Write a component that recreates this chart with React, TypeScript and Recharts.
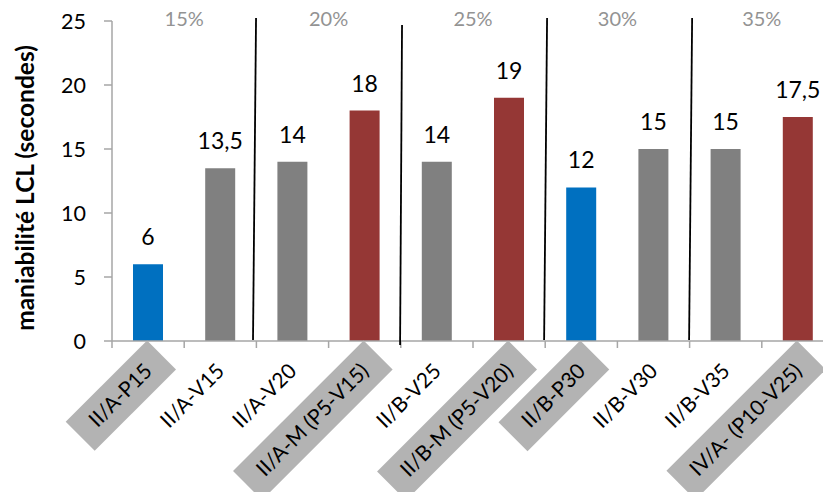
import React, { useLayoutEffect, useRef, useState } from 'react';
import { BarChart, Bar, XAxis, YAxis, Cell, LabelList } from 'recharts';

const categories = [
  'II/A-P15',
  'II/A-V15',
  'II/A-V20',
  'II/A-M (P5-V15)',
  'II/B-V25',
  'II/B-M (P5-V20)',
  'II/B-P30',
  'II/B-V30',
  'II/B-V35',
  'IV/A- (P10-V25)',
];
const values = [6, 13.5, 14, 18, 14, 19, 12, 15, 15, 17.5];
const kinds = ['P', 'V', 'V', 'M', 'V', 'M', 'P', 'V', 'V', 'M'];
const yTicks = [0, 5, 10, 15, 20, 25];
const groupLabels = ['15%', '20%', '25%', '30%', '35%'];
const groupCenters = [1, 3, 5, 7, 9];
// group separators in category units / y values: [xTop, yTop, xBottom, yBottom]
const separators = [
  [1.995, 25.23, 1.953, 0.08],
  [4.017, 24.69, 3.99, -0.31],
  [6.026, 25.23, 5.985, 0.08],
  [8.035, 25.23, 7.993, 0.08],
];

const COLORS: Record<string, string> = { P: '#0070C0', V: '#808080', M: '#953735' };
const FONT = 'Lato, "Open Sans", sans-serif';
const AXIS_GREY = '#a6a6a6';

const CHART_W = 900;
const CHART_H = 492;
const MARGIN = { top: 21, right: 66, left: 0, bottom: 0 };
const Y_AXIS_W = 112;
const X_AXIS_H = 151;
const PLOT_W = CHART_W - MARGIN.right - MARGIN.left - Y_AXIS_W;
const PLOT_H = CHART_H - MARGIN.top - MARGIN.bottom - X_AXIS_H;
const Y_MAX = 25;
const BAND = PLOT_W / categories.length;

const data = categories.map((c, i) => ({ name: c, value: values[i], kind: kinds[i] }));

const yPix = (v: number) => MARGIN.top + ((Y_MAX - v) / Y_MAX) * PLOT_H;

function Extras({ left }: { left: number }) {
  const xPix = (u: number) => left + u * BAND;
  const bottom = yPix(0);
  return (
    <g>
      {categories.map((_, i) => (
        <line
          key={'b' + i}
          x1={xPix(i)}
          x2={xPix(i)}
          y1={bottom}
          y2={bottom + 7}
          stroke={AXIS_GREY}
          strokeWidth={1.5}
        />
      ))}
      <line
        x1={xPix(categories.length)}
        x2={xPix(categories.length)}
        y1={bottom}
        y2={bottom + 7}
        stroke={AXIS_GREY}
        strokeWidth={1.5}
      />
      {separators.map((s, i) => (
        <line
          key={'s' + i}
          x1={xPix(s[0])}
          y1={yPix(s[1])}
          x2={xPix(s[2])}
          y2={yPix(s[3])}
          stroke="#000"
          strokeWidth={1.8}
        />
      ))}
      {groupLabels.map((g, i) => (
        <text
          key={'g' + i}
          x={xPix(groupCenters[i])}
          y={yPix(Y_MAX) - 2}
          dy="0.36em"
          textAnchor="middle"
          fontSize={20}
          fontFamily={FONT}
          fill="#939393"
        >
          {g}
        </text>
      ))}
    </g>
  );
}

function XTick(props: any) {
  const { x, y, payload, index } = props;
  const label = payload?.value as string;
  const idx = typeof index === 'number' ? index : categories.indexOf(label);
  const kind = kinds[idx];
  const boxed = kind !== 'V';
  const ref = useRef<SVGTextElement>(null);
  const [w, setW] = useState(0);
  useLayoutEffect(() => {
    if (ref.current) setW(ref.current.getComputedTextLength());
  }, [label]);
  const pad = 18;
  const h = 41;
  return (
    <g>
      {idx === 0 && <Extras left={x - BAND / 2} />}
      <g transform={`translate(${x},${y + 26}) rotate(-45)`}>
        {boxed && w > 0 && (
          <rect x={-w - pad} y={-h / 2 + 1} width={w + 2 * pad} height={h} fill="#b3b3b3" />
        )}
        <text
          ref={ref}
          x={0}
          y={0}
          dy="0.36em"
          textAnchor="end"
          fontSize={21}
          fontFamily={FONT}
          fill="#000"
        >
          {label}
        </text>
      </g>
    </g>
  );
}

function YLabel(props: any) {
  const vb = props.viewBox || {};
  const cy = (vb.y ?? MARGIN.top) + (vb.height ?? PLOT_H) / 2 + 7;
  const cx = 24;
  return (
    <text
      x={cx}
      y={cy}
      transform={`rotate(-90, ${cx}, ${cy})`}
      textAnchor="middle"
      dominantBaseline="central"
      fontSize={24.5}
      fontWeight="bold"
      fontFamily={FONT}
      fill="#000"
    >
      maniabilité LCL (secondes)
    </text>
  );
}

export default function App() {
  return (
    <div
      style={{
        position: 'absolute',
        left: 0,
        top: 0,
        width: 823,
        height: 492,
        overflow: 'hidden',
        background: '#fff',
        fontFamily: FONT,
      }}
    >
      <BarChart width={CHART_W} height={CHART_H} data={data} margin={MARGIN}>
        <YAxis
          domain={[0, Y_MAX]}
          ticks={yTicks}
          width={Y_AXIS_W}
          tickSize={8}
          tickMargin={18}
          axisLine={{ stroke: AXIS_GREY, strokeWidth: 1.5 }}
          tickLine={{ stroke: AXIS_GREY, strokeWidth: 1.5 }}
          tick={{ fill: '#000', fontSize: 21.5, fontFamily: FONT }}
          label={<YLabel />}
          allowDataOverflow
        />
        <XAxis
          dataKey="name"
          interval={0}
          height={X_AXIS_H}
          tickSize={0}
          tickMargin={0}
          tickLine={false}
          axisLine={{ stroke: AXIS_GREY, strokeWidth: 1.5 }}
          tick={(p: any) => <XTick {...p} />}
        />
        <Bar dataKey="value" barSize={30} isAnimationActive={false}>
          {data.map((d, i) => (
            <Cell key={i} fill={COLORS[d.kind]} />
          ))}
          <LabelList
            dataKey="value"
            position="top"
            offset={19}
            fontSize={23}
            fontFamily={FONT}
            fill="#000"
            formatter={(v: any) => String(v).replace('.', ',')}
          />
        </Bar>
      </BarChart>
    </div>
  );
}
